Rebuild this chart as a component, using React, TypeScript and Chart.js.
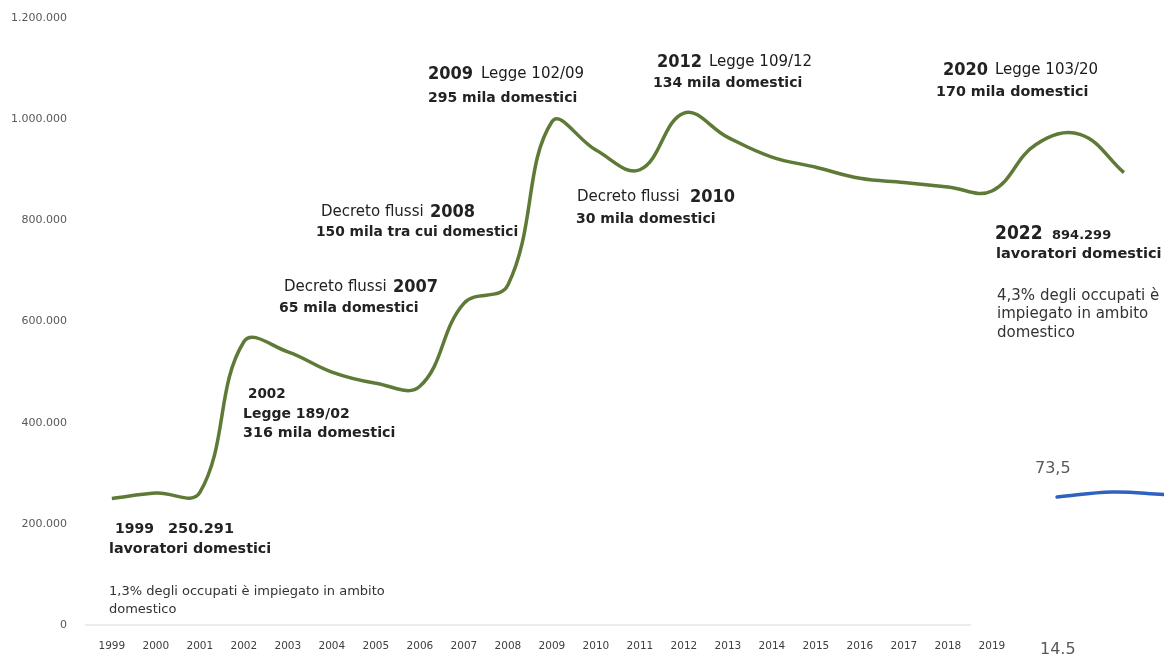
import React, { useEffect, useRef } from "react";
import Chart from "chart.js/auto";

// ---- data ----
const years = [1999, 2000, 2001, 2002, 2003, 2004, 2005, 2006, 2007, 2008, 2009, 2010, 2011, 2012, 2013, 2014, 2015, 2016, 2017, 2018, 2019, 2020, 2021, 2022];
const workers = [250291, 261000, 262000, 560000, 540000, 500000, 478000, 472000, 636000, 672000, 995000, 939000, 900000, 1012000, 964000, 925000, 905000, 883000, 875000, 866000, 858000, 950000, 970000, 894299];
const axisLabelYears = [1999, 2000, 2001, 2002, 2003, 2004, 2005, 2006, 2007, 2008, 2009, 2010, 2011, 2012, 2013, 2014, 2015, 2016, 2017, 2018, 2019];
const yTicks = [0, 200000, 400000, 600000, 800000, 1000000, 1200000];
const blueYears = [2020.48, 2021.73, 2022.9];
const blueValues = [253000, 263000, 258000];
const baseLineYears = [1998.39, 2018.52];
const baseLineValues = [0, 0];

const X_MIN = 1998.39;
const X_MAX = 2022.91;

const fmt = (v: number) => String(Math.round(v)).replace(/\B(?=(\d{3})+(?!\d))/g, ".");

type TProps = { x: number; base: number; size: number; bold?: boolean; big?: boolean; color?: string; text: string };
const T = ({ x, base, size, bold, big, color, text }: TProps) => (
  <div
    style={{
      position: "absolute",
      left: x,
      top: base - 0.846 * size,
      fontSize: size,
      lineHeight: 1,
      fontFamily: big ? "'DejaVu Sans Condensed', 'DejaVu Sans', sans-serif" : "'DejaVu Sans', sans-serif",
      fontStretch: big ? "condensed" : "normal",
      fontWeight: bold || big ? 700 : 400,
      color: color || "#222",
      whiteSpace: "pre",
    }}
  >
    {text}
  </div>
);

export default function App() {
  const ref = useRef<HTMLCanvasElement | null>(null);
  useEffect(() => {
    if (!ref.current) return;
    const chart = new Chart(ref.current, {
      type: "line",
      data: {
        datasets: [
          {
            data: years.map((x, i) => ({ x, y: workers[i] })),
            borderColor: "#5e7a36",
            borderWidth: 3.5,
            pointRadius: 0,
            tension: 0.4,
            fill: false,
          },
          {
            data: blueYears.map((x, i) => ({ x, y: blueValues[i] })),
            borderColor: "#2f62c0",
            borderWidth: 3.5,
            pointRadius: 0,
            tension: 0.4,
            fill: false,
            borderCapStyle: "round",
          },
          {
            data: baseLineYears.map((x, i) => ({ x, y: baseLineValues[i] })),
            borderColor: "#d9d9d9",
            borderWidth: 1,
            pointRadius: 0,
            tension: 0,
            fill: false,
            clip: 4,
          },
        ],
      },
      options: {
        animation: false,
        responsive: true,
        maintainAspectRatio: false,
        layout: { padding: { top: 18, right: 0, bottom: 0, left: 0 } },
        plugins: { legend: { display: false }, tooltip: { enabled: false } },
        scales: {
          x: {
            type: "linear",
            bounds: "data",
            min: X_MIN,
            max: X_MAX,
            grid: { display: false },
            border: { display: false },
            afterBuildTicks: (s: any) => {
              s.ticks = axisLabelYears.map((v) => ({ value: v }));
            },
            afterFit: (s: any) => {
              s.height = 29;
            },
            ticks: {
              autoSkip: false,
              maxRotation: 0,
              padding: 7,
              color: "#404040",
              font: { family: "'DejaVu Sans', sans-serif", size: 10.5 },
              callback: (v: any) => String(v),
            },
          },
          y: {
            min: 0,
            max: 1200000,
            grid: { display: false },
            border: { display: false },
            afterBuildTicks: (s: any) => {
              s.ticks = yTicks.map((v) => ({ value: v }));
            },
            afterFit: (s: any) => {
              s.width = 85;
            },
            ticks: {
              padding: 10,
              color: "#595959",
              font: { family: "'DejaVu Sans', sans-serif", size: 11 },
              callback: (v: any) => fmt(Number(v)),
            },
          },
        },
      },
    });
    return () => chart.destroy();
  }, []);

  return (
    <div style={{ position: "absolute", left: 0, top: 0, width: 1164, height: 654, overflow: "hidden", background: "#fff" }}>
      <canvas ref={ref} style={{ position: "absolute", left: 0, top: 0, width: 1164, height: 654 }} />

      <T x={428} base={79} size={18} big text="2009" />
      <T x={481} base={79} size={15} color="#1a1a1a" text="Legge 102/09" />
      <T x={428} base={102} size={14} bold text="295 mila domestici" />

      <T x={657} base={67} size={18} big text="2012" />
      <T x={709} base={67} size={15} color="#1a1a1a" text="Legge 109/12" />
      <T x={653} base={87} size={14} bold text="134 mila domestici" />

      <T x={943} base={75} size={18} big text="2020" />
      <T x={995} base={75} size={15} color="#1a1a1a" text="Legge 103/20" />
      <T x={936} base={96} size={14.3} bold text="170 mila domestici" />

      <T x={321} base={217} size={15} text="Decreto flussi" />
      <T x={430} base={217} size={18} big text="2008" />
      <T x={316} base={237} size={13.8} bold text="150 mila tra cui domestici" />

      <T x={577} base={202} size={15} text="Decreto flussi" />
      <T x={690} base={202} size={18} big text="2010" />
      <T x={576} base={223} size={14} bold text="30 mila domestici" />

      <T x={284} base={292} size={15} text="Decreto flussi" />
      <T x={393} base={292} size={18} big text="2007" />
      <T x={279} base={312} size={14} bold text="65 mila domestici" />

      <T x={248} base={398} size={13.5} bold text="2002" />
      <T x={243} base={418} size={14} bold text="Legge 189/02" />
      <T x={243} base={437} size={14.3} bold text="316 mila domestici" />

      <T x={115} base={533} size={14} bold text="1999" />
      <T x={168} base={533} size={14.5} bold text="250.291" />
      <T x={109} base={553} size={14.3} bold text="lavoratori domestici" />
      <T x={109} base={595} size={13} color="#333" text="1,3% degli occupati è impiegato in ambito" />
      <T x={109} base={613} size={13} color="#333" text="domestico" />

      <T x={995} base={239} size={19} big text="2022" />
      <T x={1052} base={239} size={13} bold text="894.299" />
      <T x={996} base={258} size={14.6} bold text="lavoratori domestici" />
      <T x={997} base={301} size={15} color="#333" text="4,3% degli occupati è" />
      <T x={997} base={319} size={15} color="#333" text="impiegato in ambito" />
      <T x={997} base={338} size={15} color="#333" text="domestico" />

      <T x={1035} base={474} size={16} color="#595959" text="73,5" />
      <T x={1040} base={655} size={16} color="#595959" text="14.5" />
    </div>
  );
}
